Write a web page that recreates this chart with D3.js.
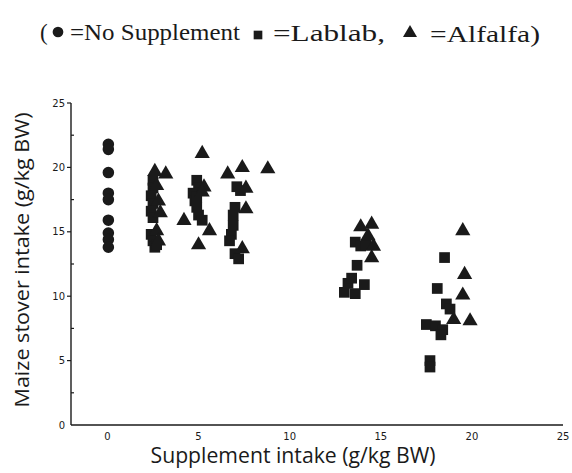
<!DOCTYPE html>
<html>
<head>
<meta charset="utf-8">
<script src="https://cdn.jsdelivr.net/npm/d3@7"></script>
<style>
  body { margin: 0; background: #fff; }
  svg { display: block; }
</style>
</head>
<body>
<svg id="chart" width="572" height="473"></svg>
<script>
// values
const xTicks = [0, 5, 10, 15, 20, 25];
const yTicks = [0, 5, 10, 15, 20, 25];

const noSuppX = [0.05, 0.05, 0.05, 0.05, 0.05, 0.05, 0.05, 0.05, 0.05];
const noSuppY = [21.8, 21.4, 19.6, 18.0, 17.5, 15.9, 14.9, 14.4, 13.8];

const lablab = [
  [2.5, 19.0], [2.5, 18.4], [2.4, 17.8], [2.5, 17.2], [2.4, 16.6], [2.5, 16.1],
  [2.4, 14.8], [2.5, 14.3], [2.6, 13.8], [2.7, 14.0],
  [4.9, 19.0], [5.0, 18.4], [4.7, 18.0], [4.8, 17.4], [4.9, 16.9], [5.0, 16.3],
  [5.2, 15.9], [4.9, 17.7],
  [7.1, 18.5], [7.3, 18.2], [7.0, 16.9], [6.9, 16.3], [6.9, 15.5], [6.8, 14.8],
  [6.7, 14.3], [7.0, 13.3], [7.2, 12.9],
  [13.6, 14.2], [13.9, 13.9], [14.2, 14.0], [13.7, 12.4], [13.2, 11.0],
  [13.0, 10.3], [13.6, 10.2], [14.1, 10.9], [13.4, 11.4],
  [18.5, 13.0], [18.1, 10.6], [18.6, 9.4], [18.8, 9.0], [17.5, 7.8], [18.0, 7.7],
  [18.4, 7.4], [18.3, 7.0], [17.7, 5.0], [17.7, 4.5]
];

const alfalfa = [
  [2.6, 19.6], [3.2, 19.4], [2.7, 18.5], [2.8, 17.3], [2.9, 16.4], [2.7, 15.0], [2.8, 14.2],
  [5.2, 21.0], [4.2, 15.8], [5.6, 15.0], [5.0, 13.9], [5.3, 18.4], [5.2, 18.0],
  [6.6, 19.4], [7.4, 19.9], [7.6, 18.3], [7.6, 16.7], [7.4, 13.6], [8.8, 19.8],
  [13.9, 15.3], [14.5, 15.5], [14.6, 13.8], [14.5, 12.9], [14.3, 14.6],
  [19.5, 15.0], [19.6, 11.6], [19.5, 10.0], [19.0, 8.1], [19.9, 8.0]
];

const ink = '#1a1a1a';
const svg = d3.select('#chart');

const x = d3.scaleLinear().domain([-2, 25]).range([71, 563]);
const y = d3.scaleLinear().domain([0, 25]).range([425, 103]);

// axes
svg.append('line').attr('x1', x(-2)).attr('x2', x(25)).attr('y1', y(0)).attr('y2', y(0))
  .attr('stroke', ink).attr('stroke-width', 1.6);
svg.append('line').attr('x1', x(-2)).attr('x2', x(-2)).attr('y1', y(0)).attr('y2', y(25))
  .attr('stroke', ink).attr('stroke-width', 1.4);

// y ticks: outside for labelled values, short inside marks in between
svg.append('g').selectAll('line').data(yTicks.slice(1)).enter().append('line')
  .attr('x1', x(-2) - 4).attr('x2', x(-2)).attr('y1', d => y(d)).attr('y2', d => y(d))
  .attr('stroke', ink).attr('stroke-width', 1.2);
svg.append('g').selectAll('line').data(yTicks.slice(0, -1).map(d => d + 2.5)).enter().append('line')
  .attr('x1', x(-2)).attr('x2', x(-2) + 3).attr('y1', d => y(d)).attr('y2', d => y(d))
  .attr('stroke', ink).attr('stroke-width', 1.2);

svg.append('g').selectAll('text').data(yTicks).enter().append('text')
  .attr('x', x(-2) - 6).attr('y', d => y(d) + 3.5)
  .attr('text-anchor', 'end').attr('font-size', 10)
  .attr('font-family', 'DejaVu Sans, sans-serif').attr('fill', ink)
  .text(d => d);

svg.append('g').selectAll('text').data(xTicks).enter().append('text')
  .attr('x', d => x(d)).attr('y', y(0) + 15)
  .attr('text-anchor', 'middle').attr('font-size', 10)
  .attr('font-family', 'DejaVu Sans, sans-serif').attr('fill', ink)
  .text(d => d);

// axis titles
svg.append('text')
  .attr('x', 293).attr('y', 463)
  .attr('text-anchor', 'middle').attr('font-size', 21)
  .attr('font-family', 'Open Sans, sans-serif').attr('fill', ink)
  .attr('textLength', 285).attr('lengthAdjust', 'spacingAndGlyphs')
  .text('Supplement intake (g/kg BW)');

svg.append('text')
  .attr('transform', 'translate(29,260) rotate(-90)')
  .attr('text-anchor', 'middle').attr('font-size', 20)
  .attr('font-family', 'Open Sans, sans-serif').attr('fill', ink)
  .attr('textLength', 295).attr('lengthAdjust', 'spacingAndGlyphs')
  .text('Maize stover intake (g/kg BW)');

// markers
const circ = d3.symbol().type(d3.symbolCircle).size(105);
const sq = d3.symbol().type(d3.symbolSquare).size(115);
const tri = d3.symbol().type(d3.symbolTriangle).size(100);

svg.append('g').selectAll('path').data(noSuppY).enter().append('path')
  .attr('d', circ)
  .attr('transform', (d, i) => `translate(${x(noSuppX[i])},${y(d)})`)
  .attr('fill', ink);

svg.append('g').selectAll('path').data(lablab).enter().append('path')
  .attr('d', sq)
  .attr('transform', d => `translate(${x(d[0])},${y(d[1])})`)
  .attr('fill', ink);

svg.append('g').selectAll('path').data(alfalfa).enter().append('path')
  .attr('d', tri)
  .attr('transform', d => `translate(${x(d[0])},${y(d[1]) - 1})`)
  .attr('fill', ink);

// legend line at top
const leg = svg.append('g').attr('font-family', 'Liberation Serif, serif')
  .attr('font-size', 23).attr('fill', ink);
leg.append('text').attr('x', 40).attr('y', 40).text('(');
leg.append('path').attr('d', d3.symbol().type(d3.symbolCircle).size(90)).attr('transform', 'translate(58,32)').attr('fill', ink);
leg.append('text').attr('x', 70).attr('y', 40)
  .attr('textLength', 170).attr('lengthAdjust', 'spacingAndGlyphs').text('=No Supplement');
leg.append('path').attr('d', d3.symbol().type(d3.symbolSquare).size(75)).attr('transform', 'translate(258,35)').attr('fill', ink);
leg.append('text').attr('x', 273).attr('y', 41)
  .attr('textLength', 112).attr('lengthAdjust', 'spacingAndGlyphs').text('=Lablab,');
leg.append('path').attr('d', d3.symbol().type(d3.symbolTriangle).size(85)).attr('transform', 'translate(410,33)').attr('fill', ink);
leg.append('text').attr('x', 430).attr('y', 42)
  .attr('textLength', 110).attr('lengthAdjust', 'spacingAndGlyphs').text('=Alfalfa)');
</script>
</body>
</html>
